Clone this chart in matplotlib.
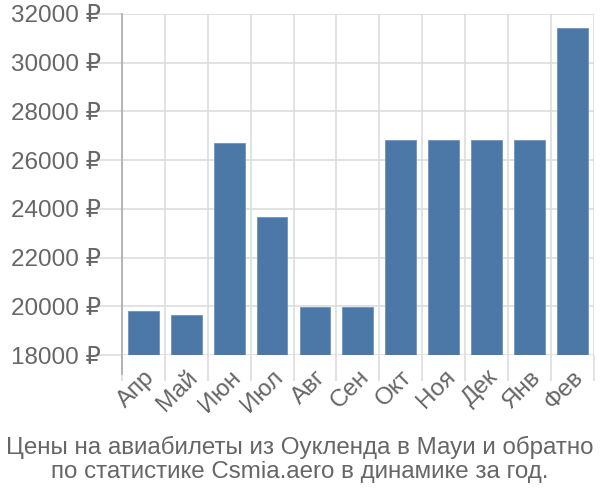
import matplotlib.pyplot as plt
from matplotlib.ticker import FuncFormatter, MultipleLocator, FixedLocator

plt.rcParams['font.family'] = ['Liberation Sans', 'DejaVu Sans']

months = ["Апр", "Май", "Июн", "Июл", "Авг", "Сен", "Окт", "Ноя", "Дек", "Янв", "Фев"]
prices = [19800, 19630, 26720, 23680, 19980, 19980, 26820, 26820, 26820, 26820, 31420]
title = "Цены на авиабилеты из Оукленда в Мауи и обратно\nпо статистике Csmia.aero в динамике за год."

bar_color = "#4C78A8"
text_color = "#666666"
grid_color = "#dddddd"

fig = plt.figure(figsize=(6, 5), dpi=100)
ax = fig.add_axes([0.203, 0.29, 0.787, 0.682])

x = list(range(len(months)))
ax.bar(x, prices, width=0.72, color=bar_color, edgecolor="#6f93bd", linewidth=0.6, zorder=3)

ax.set_xlim(-0.5, len(months) - 0.5)
ax.set_ylim(18000, 32000)
ax.yaxis.set_major_locator(MultipleLocator(2000))
ax.yaxis.set_major_formatter(FuncFormatter(lambda v, p: f"{int(v)} ₽"))

ax.set_xticks(x)
ax.set_xticklabels(months, rotation=45, ha="right", rotation_mode="anchor")
ax.xaxis.set_minor_locator(FixedLocator([i - 0.5 for i in range(len(months) + 1)]))

ax.grid(axis="y", which="major", color=grid_color, linewidth=1.2, zorder=0)
ax.grid(axis="x", which="minor", color=grid_color, linewidth=1.2, zorder=0)

ax.tick_params(axis="y", which="major", length=19, width=1.2, color=grid_color,
               labelsize=17.5, labelcolor=text_color, pad=-4)
ax.tick_params(axis="x", which="major", length=0, labelsize=17.5, labelcolor=text_color, pad=8)
ax.tick_params(axis="x", which="minor", length=19, width=1.2, color=grid_color)

for side in ["top", "right", "bottom", "left"]:
    ax.spines[side].set_visible(False)
# left axis line, running down past the plot like the category ticks
ax.axvline(-0.5, ymin=-0.056, ymax=1, color="#aaaaaa", linewidth=1.2, clip_on=False, zorder=4)

fig.text(0.5, 0.081, title, ha="center", va="center", fontsize=17.4, color=text_color,
         linespacing=1.12)

fig.savefig("out.png", dpi=100)
